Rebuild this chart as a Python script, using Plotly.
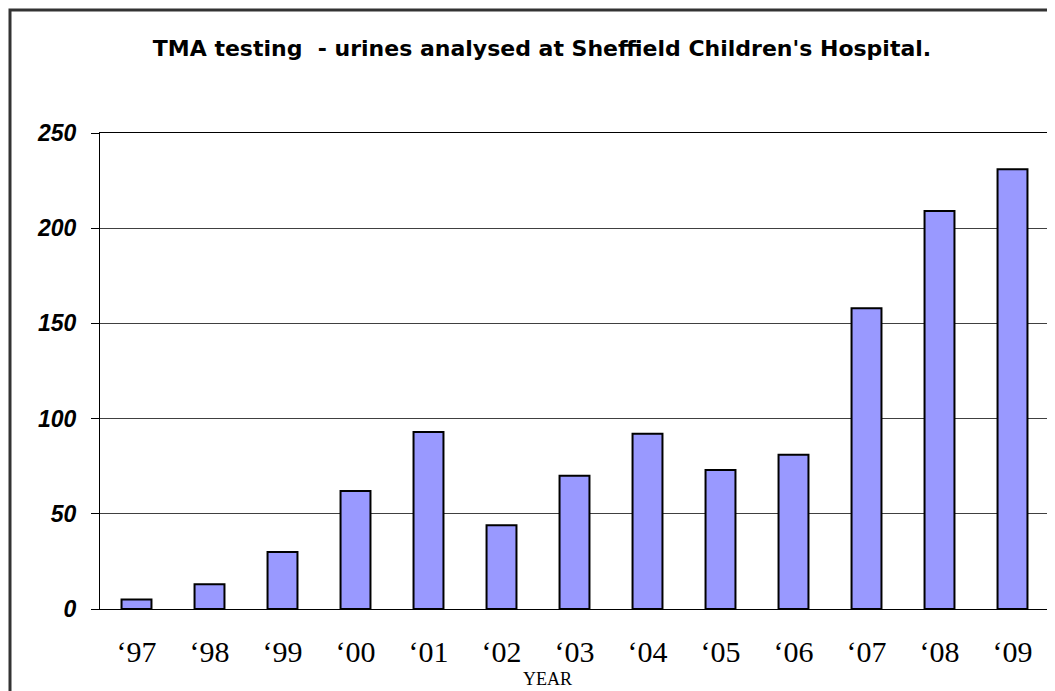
import plotly.graph_objects as go

years = ["\u201897", "\u201898", "\u201899", "\u201800", "\u201801", "\u201802", "\u201803",
         "\u201804", "\u201805", "\u201806", "\u201807", "\u201808", "\u201809"]
counts = [5, 13, 30, 62, 93, 44, 70, 92, 73, 81, 158, 209, 231]
y_ticks = [0, 50, 100, 150, 200, 250]

# page body has an 8px default margin; lay out in figure coords = page coords - 8
OFF = 8
W, H = 1055 - OFF, 691 - OFF
L, R_EDGE, T, B_EDGE = 100 - OFF, 1049 - OFF, 133 - OFF, 609 - OFF
PW, PH = R_EDGE - L, B_EDGE - T

fig = go.Figure()
fig.add_trace(go.Bar(
    x=years, y=counts,
    marker=dict(color="#9999FF", line=dict(color="black", width=2)),
))

fig.update_layout(
    width=W, height=H,
    margin=dict(l=L, r=W - R_EDGE, t=T, b=H - B_EDGE, autoexpand=False),
    paper_bgcolor="white", plot_bgcolor="white",
    bargap=0.59,
    showlegend=False,
    title=dict(
        text="<b>TMA testing  - urines analysed at Sheffield Children's Hospital.</b>",
        font=dict(family="DejaVu Sans, Liberation Sans, Arial", size=22, color="black"),
        xref="paper", x=(542 - 100) / 949, xanchor="center",
        yref="container", y=1 - (48 - OFF) / H, yanchor="middle",
    ),
    font=dict(family="Liberation Sans, Arial", color="black"),
)

fig.update_xaxes(
    type="category",
    showline=True, linecolor="black", linewidth=1, mirror=True,
    ticks="", showgrid=False,
    tickfont=dict(family="Liberation Serif, Times New Roman", size=30, color="black"),
    ticklabelstandoff=16,
)
fig.update_yaxes(
    range=[0, 250], tickvals=y_ticks,
    showline=True, linecolor="black", linewidth=1, mirror=True,
    ticks="outside", ticklen=8, tickcolor="black", tickwidth=1,
    showgrid=True, gridcolor="#404040", gridwidth=1,
    zeroline=False,
    tickfont=dict(family="Liberation Sans, Arial", size=23, color="black",
                  weight="bold", style="italic"),
    ticklabelstandoff=10,
)

fig.add_annotation(
    text="YEAR", xref="paper", yref="paper",
    x=(547 - 100) / 949, y=(609 - 679) / PH,
    xanchor="center", yanchor="middle", showarrow=False,
    font=dict(family="Liberation Serif, Times New Roman", size=18, color="black"),
)

# outer chart frame
fig.add_shape(
    type="rect", xref="paper", yref="paper",
    x0=(10 - 100) / PW, x1=1.2, y0=-0.5, y1=1 + (133 - 10) / PH,
    line=dict(color="#333333", width=3), fillcolor="rgba(0,0,0,0)",
    layer="below",
)

fig.write_html("out.html")
